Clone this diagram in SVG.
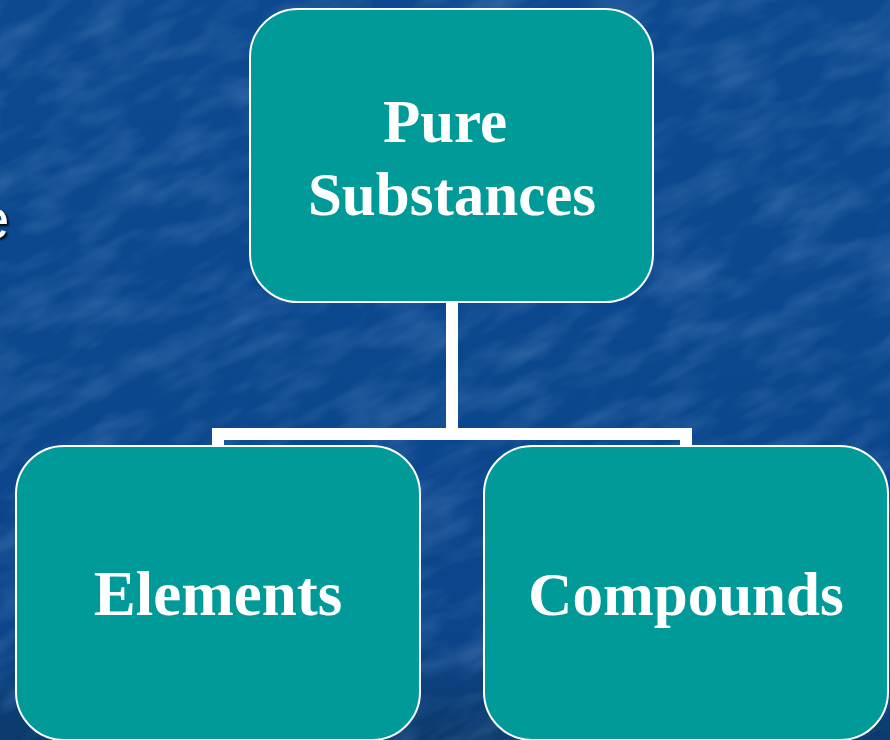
<svg xmlns="http://www.w3.org/2000/svg" width="890" height="740" viewBox="0 0 890 740">
<defs>
<linearGradient id="bg" x1="0" y1="0" x2="0" y2="1">
<stop offset="0" stop-color="#0c4990"/>
<stop offset="0.85" stop-color="#0b468c"/>
<stop offset="1" stop-color="#0b3a6c"/>
</linearGradient>
<filter id="tex" x="0" y="0" width="100%" height="100%">
<feTurbulence type="fractalNoise" baseFrequency="0.015 0.04" numOctaves="3" seed="4" result="n"/>
<feColorMatrix in="n" type="matrix" values="0 0 0 0 0.35  0 0 0 0 0.55  0 0 0 0 0.85  0 0 0 1.4 -0.55"/>
</filter>
<filter id="sh" x="-50%" y="-50%" width="200%" height="200%">
<feDropShadow dx="2" dy="2" stdDeviation="0.8" flood-color="#000" flood-opacity="0.9"/>
</filter>
</defs>
<style>
.box{fill:#009a99;stroke:#ffffff;stroke-width:2}
.lbl{font-family:"Liberation Serif","Times New Roman",serif;font-weight:bold;fill:#ffffff;text-anchor:middle}
.conn{fill:none;stroke:#ffffff;stroke-width:12;stroke-linejoin:miter}
</style>
<rect x="0" y="0" width="890" height="740" fill="url(#bg)"/>
<g transform="rotate(-25 445 370)" opacity="0.3"><rect x="-300" y="-300" width="1500" height="1400" filter="url(#tex)"/></g>
<text x="-22" y="238" font-family="Liberation Sans, Arial, sans-serif" font-size="56" fill="#ffffff" filter="url(#sh)">e</text>
<g id="connectors">
<path class="conn" d="M452,302 V434"/>
<path class="conn" d="M218,447 V434 H686 V447"/>
</g>
<g id="pure">
<rect class="box" x="250" y="9" width="403" height="293" rx="48" ry="48"/>
<text class="lbl" x="445" y="142" font-size="61">Pure</text>
<text class="lbl" x="452" y="215" font-size="61">Substances</text>
</g>
<g id="elements">
<rect class="box" x="16" y="446" width="404" height="294" rx="48" ry="48"/>
<text class="lbl" x="218" y="615" font-size="63">Elements</text>
</g>
<g id="compounds">
<rect class="box" x="484" y="446" width="404" height="294" rx="48" ry="48"/>
<text class="lbl" x="686" y="615" font-size="61">Compounds</text>
</g>
</svg>
